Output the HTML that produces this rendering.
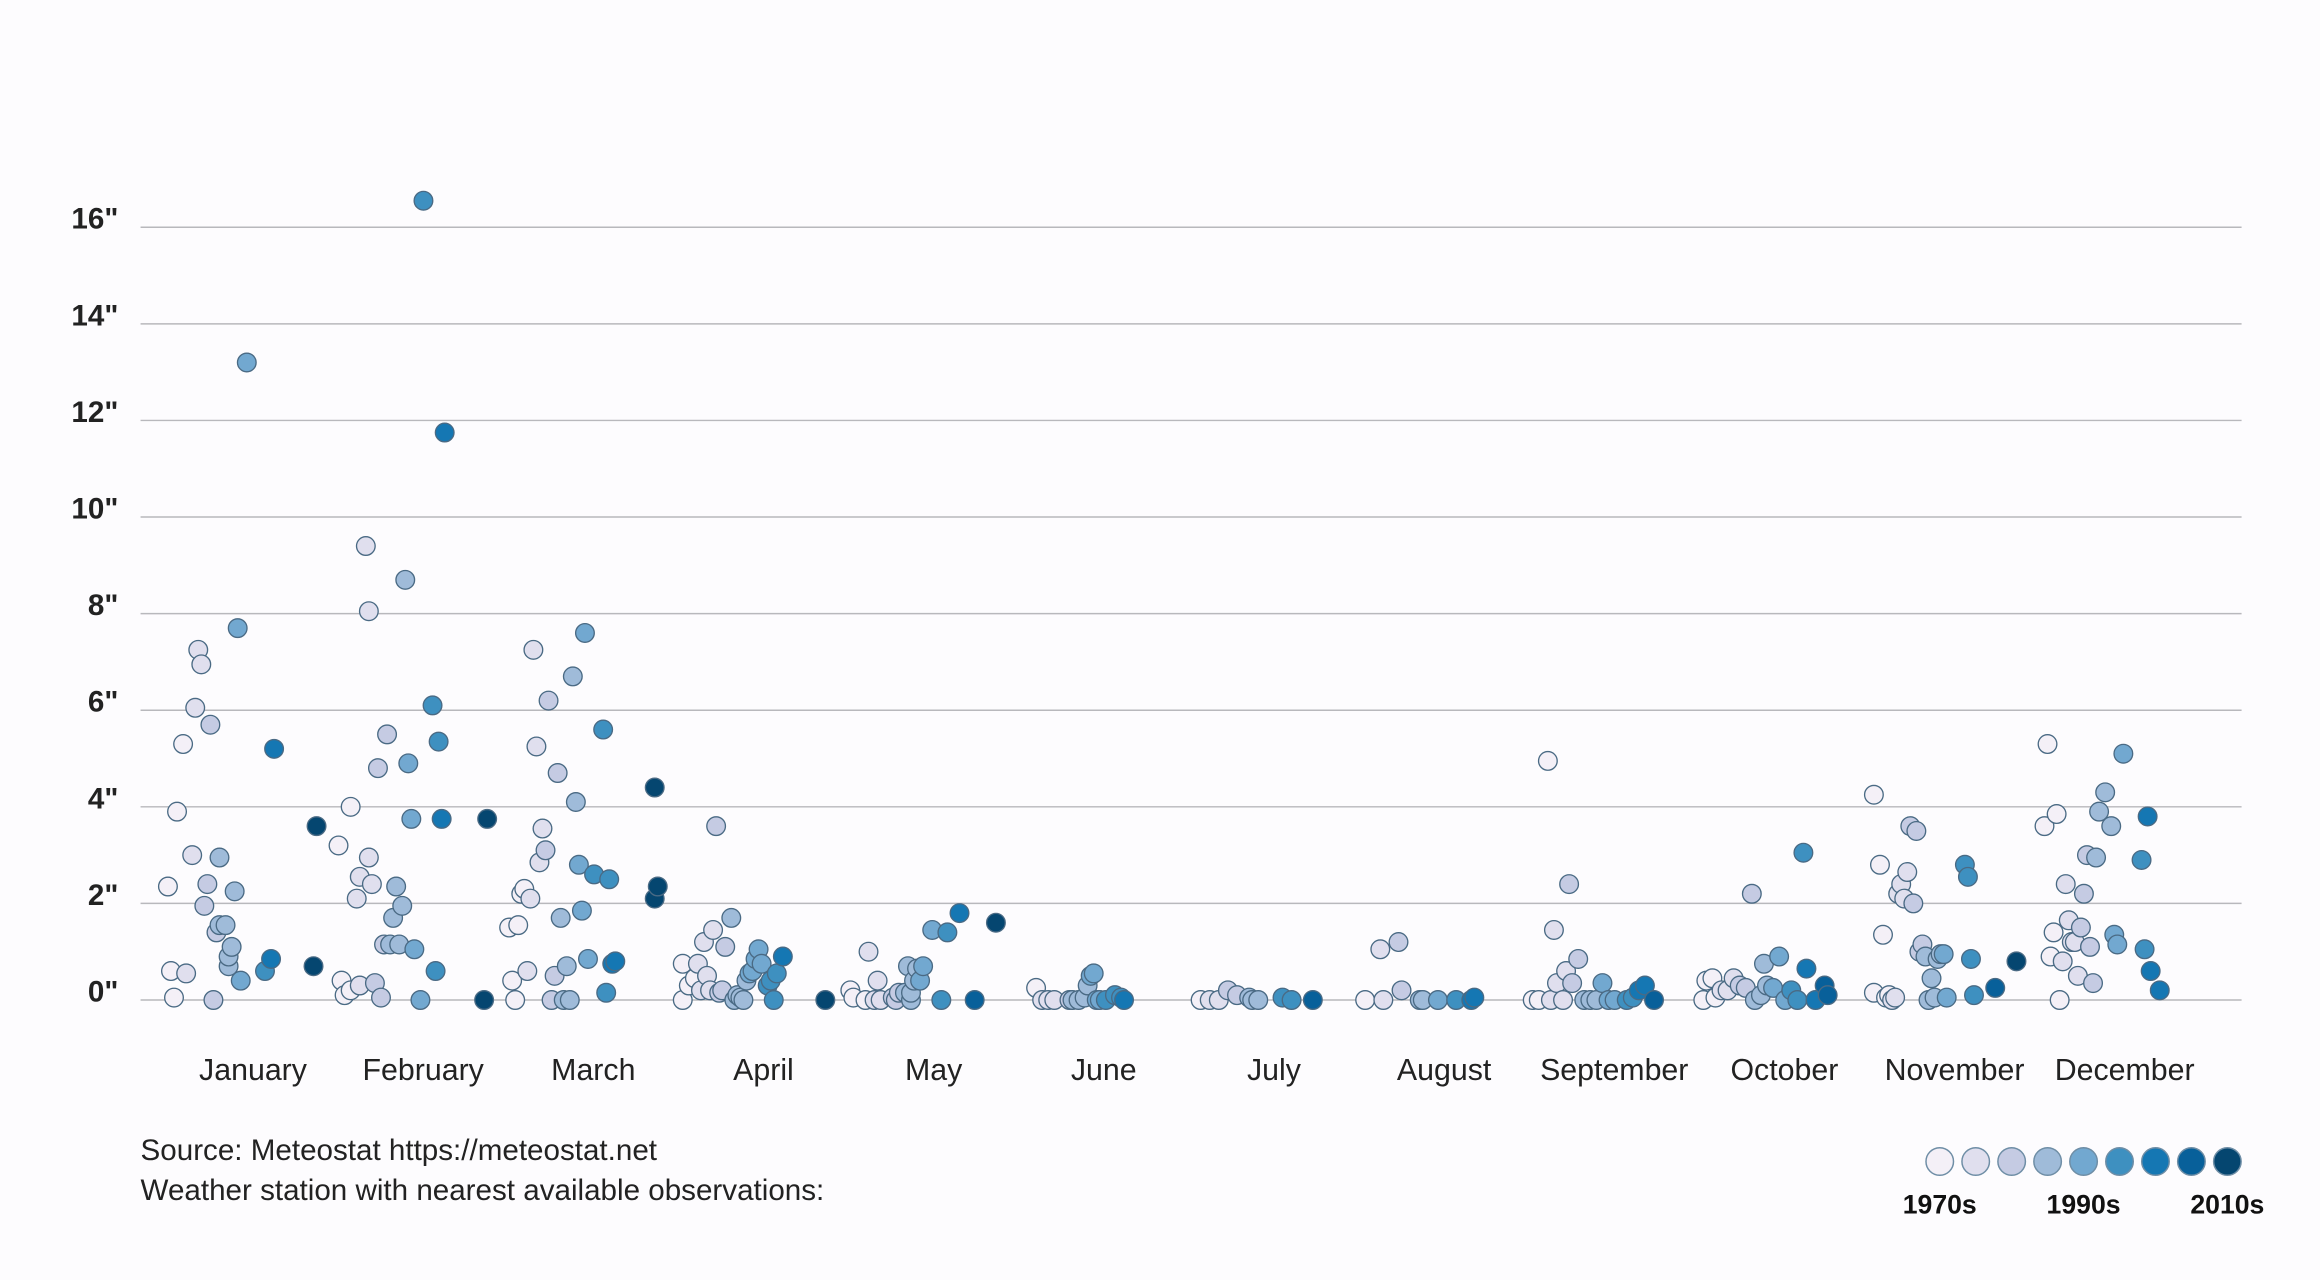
<!DOCTYPE html>
<html><head><meta charset="utf-8">
<style>
html,body{margin:0;padding:0;background:#fdfcfe;}
svg{display:block;font-family:"Liberation Sans",sans-serif;}
</style></head>
<body>
<svg id="chart" width="2320" height="1280" viewBox="0 0 1568 864" preserveAspectRatio="none" xmlns="http://www.w3.org/2000/svg">
<rect x="0" y="0" width="1568" height="864" fill="#fdfcfe"/>
<g id="grid"></g>
<g id="yticks"></g>
<g id="xlabels"></g>
<g id="dots"></g>
<text x="95" y="783" font-size="20" fill="#222">Source: Meteostat https://meteostat.net</text>
<text x="95" y="810" font-size="20" fill="#222">Weather station with nearest available observations:</text>
<g id="legend"></g>
</svg>
<script>
const months=["January","February","March","April","May","June","July","August","September","October","November","December"];
const yTicks=[0,2,4,6,8,10,12,14,16];
const palette=["#f4f0f7","#e0dfee","#c5cbe3","#9fbbd9","#72a8d0","#3e90c0","#1577b3","#08609a","#054670"];
const legendLabels=["1970s","1990s","2010s"];
const yearsByMonth=[
[1970,1971,1972,1975,1973,1976,1978,1979,1980,1981,1982,1983,1984,1985,1986,1987,1987,1989,1990,1990,1991,1992,1993,1994,1996,2002,2004,2005,2018,2019],
[1971,1972,1974,1970,1974,1976,1977,1977,1979,1980,1980,1981,1982,1983,1984,1985,1986,1987,1988,1989,1990,1991,1992,1993,1994,1995,1997,1998,2001,2002,2003,2004,2005,2018,2019],
[1971,1972,1970,1973,1974,1975,1976,1977,1978,1979,1980,1981,1982,1983,1984,1985,1986,1987,1988,1989,1990,1991,1992,1993,1994,1995,1996,1998,2001,2002,2003,2004,2005,2018,2018,2019],
[1971,1971,1973,1975,1976,1977,1978,1979,1980,1981,1982,1983,1984,1985,1987,1988,1989,1990,1991,1992,1993,1994,1995,1996,1997,1999,2000,2001,2002,2004,2018],
[1970,1971,1975,1976,1978,1979,1980,1984,1985,1986,1988,1989,1990,1990,1991,1992,1993,1994,1997,2000,2002,2006,2011,2018],
[1975,1977,1979,1981,1986,1987,1989,1991,1992,1993,1994,1995,1996,1998,2001,2003,2004],
[1973,1976,1979,1982,1985,1989,1990,1992,2000,2003,2010],
[1971,1976,1977,1982,1983,1989,1990,1995,2001,2006,2007],
[1970,1972,1975,1976,1977,1978,1980,1981,1982,1983,1985,1987,1989,1991,1993,1995,1997,2001,2003,2005,2007,2010],
[1970,1971,1973,1974,1976,1978,1980,1982,1984,1986,1987,1989,1990,1991,1993,1995,1997,1999,2001,2003,2004,2007,2010,2011],
[1970,1970,1972,1973,1974,1975,1976,1977,1978,1979,1980,1981,1982,1983,1984,1985,1986,1987,1988,1989,1990,1991,1992,1993,1994,2000,2001,2002,2003,2010,2017],
[1970,1971,1972,1973,1974,1975,1976,1977,1978,1979,1980,1981,1982,1983,1984,1985,1986,1987,1988,1990,1992,1993,1994,1996,2002,2003,2004,2005,2008]
];
const valuesByMonth=[
[2.35,0.6,0.05,5.3,3.9,0.55,3.0,6.05,7.25,6.95,1.95,2.4,5.7,0,1.4,2.95,1.55,1.55,0.7,0.9,1.1,2.25,7.7,0.4,13.2,0.6,0.85,5.2,0.7,3.6],
[0.4,0.1,0.2,3.2,4.0,2.1,2.55,0.3,9.4,2.95,8.05,2.4,0.35,4.8,0.05,1.15,5.5,1.15,1.7,2.35,1.15,1.95,8.7,4.9,3.75,1.05,0,16.55,6.1,0.6,5.35,3.75,11.75,0,3.75],
[0.4,0,1.5,1.55,2.2,2.3,0.6,2.1,7.25,5.25,2.85,3.55,3.1,6.2,0,0.5,4.7,1.7,0,0.7,0,6.7,4.1,2.8,1.85,7.6,0.85,2.6,5.6,0.15,2.5,0.75,0.8,4.4,2.1,2.35],
[0,0.75,0.3,0.45,0.75,0.2,1.2,0.5,0.2,1.45,3.6,0.15,0.2,1.1,1.7,0,0.1,0.05,0,0.4,0.55,0.6,0.85,1.05,0.75,0.3,0.4,0,0.55,0.9,0],
[0.2,0.05,0,1.0,0,0.4,0,0.05,0,0.15,0.15,0.7,0,0.15,0.4,0.65,0.4,0.7,1.45,0,1.4,1.8,0,1.6],
[0.25,0,0,0,0,0,0,0.05,0.3,0.5,0.55,0,0,0,0.1,0.05,0],
[0,0,0,0.2,0.1,0.05,0,0,0.05,0,0],
[0,1.05,0,1.2,0.2,0,0,0,0,0,0.05],
[0,0,4.95,0,1.45,0.35,0,0.6,2.4,0.35,0.85,0,0,0,0.35,0,0,0,0.05,0.2,0.3,0],
[0,0.4,0.45,0.05,0.2,0.2,0.45,0.3,0.25,2.2,0,0.1,0.75,0.3,0.25,0.9,0,0.2,0,3.05,0.65,0,0.3,0.1],
[4.25,0.15,2.8,1.35,0.05,0.1,0,0.05,2.2,2.4,2.1,2.65,3.6,2.0,3.5,1.0,1.15,0.9,0,0.45,0.05,0.85,0.95,0.95,0.05,2.8,2.55,0.85,0.1,0.25,0.8],
[3.6,5.3,0.9,1.4,3.85,0,0.8,2.4,1.65,1.2,1.2,0.5,1.5,2.2,3.0,1.1,0.35,2.95,3.9,4.3,3.6,1.35,1.15,5.1,2.9,1.05,3.8,0.6,0.2]
];
const NS="http://www.w3.org/2000/svg";
const plotL=95,plotR=1515,y0=675,pxPerInch=32.6;
function yScale(v){return y0-v*pxPerInch;}
function monthStart(m){return 113.5+m*115.3;}
function labelX(m){return 171+m*115;}
function xScale(m,yr){return monthStart(m)+(yr-1970)*2.05;}
function colorFor(yr){return palette[Math.max(0,Math.min(8,Math.floor((yr-1970)/50*9)))];}
const grid=document.getElementById('grid'),yt=document.getElementById('yticks'),xl=document.getElementById('xlabels'),dots=document.getElementById('dots'),lg=document.getElementById('legend');
yTicks.forEach(t=>{
  const l=document.createElementNS(NS,'line');
  l.setAttribute('x1',plotL);l.setAttribute('x2',plotR);l.setAttribute('y1',yScale(t));l.setAttribute('y2',yScale(t));
  l.setAttribute('stroke','#b8b8bc');l.setAttribute('stroke-width','1');
  
  
  grid.appendChild(l);
  const tx=document.createElementNS(NS,'text');
  tx.setAttribute('x',80);tx.setAttribute('y',yScale(t)+1);tx.setAttribute('text-anchor','end');
  tx.setAttribute('font-size','20');tx.setAttribute('font-weight','bold');tx.setAttribute('fill','#222');
  tx.textContent=t+'"';
  
  
  yt.appendChild(tx);
});
months.forEach((m,i)=>{
  const tx=document.createElementNS(NS,'text');
  tx.setAttribute('x',labelX(i));tx.setAttribute('y',729);tx.setAttribute('text-anchor','middle');
  tx.setAttribute('font-size','20.5');tx.setAttribute('fill','#222');
  tx.textContent=m;
  
  
  xl.appendChild(tx);
});
months.forEach((m,i)=>{
  yearsByMonth[i].forEach((yr,j)=>{
    const c=document.createElementNS(NS,'circle');
    c.setAttribute('cx',xScale(i,yr));c.setAttribute('cy',yScale(valuesByMonth[i][j]));c.setAttribute('r',6.3);
    c.setAttribute('fill',colorFor(yr));c.setAttribute('stroke','#4a6a84');c.setAttribute('stroke-width','0.9');
    
    
    dots.appendChild(c);
  });
});
palette.forEach((col,i)=>{
  const c=document.createElementNS(NS,'circle');
  c.setAttribute('cx',1311+i*24.3);c.setAttribute('cy',784);c.setAttribute('r',9.3);
  c.setAttribute('fill',col);c.setAttribute('stroke','#6f8ea6');c.setAttribute('stroke-width','1');
  
  
  lg.appendChild(c);
});
legendLabels.forEach((t,i)=>{
  const tx=document.createElementNS(NS,'text');
  tx.setAttribute('x',1311+i*97.2);tx.setAttribute('y',819);tx.setAttribute('text-anchor','middle');
  tx.setAttribute('font-size','18');tx.setAttribute('font-weight','bold');tx.setAttribute('fill','#111');
  tx.textContent=t;
  
  
  lg.appendChild(tx);
});
</script>
</body></html>
